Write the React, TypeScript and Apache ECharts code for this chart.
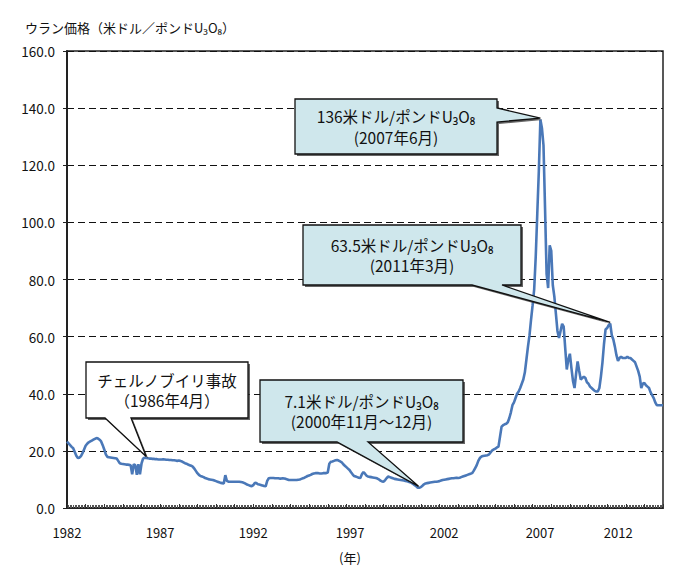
import React, { useEffect, useRef } from 'react';
import * as echarts from 'echarts';

const START_YEAR = 1982;

// Monthly uranium spot price (US$/lb U3O8), Jan 1982 onwards
const prices1980s = [
  23.2, 22.6, 22.0, 21.4, 20.9, 19.6, 18.3, 17.5, 17.6, 18.2, 19.2, 20.5,
  21.8, 22.5, 23.0, 23.3, 23.6, 23.9, 24.2, 24.5, 24.3, 23.9, 23.3, 22.0,
  20.5, 18.8, 17.9, 17.8, 17.7, 17.6, 17.5, 17.4, 17.3, 16.5, 15.7, 15.5,
  15.4, 15.3, 15.2, 15.2, 15.1, 15.0, 11.8, 15.3, 15.0, 11.6, 15.3, 11.8,
  15.5, 17.3, 17.6, 17.5, 17.4, 17.3, 17.3, 17.2, 17.2, 17.1, 17.1, 17.0,
  17.0, 17.0, 17.1, 17.0, 16.9, 16.9, 16.8, 16.8, 16.7, 16.7, 16.6, 16.5,
  16.6, 16.5, 16.3, 16.0, 15.7, 15.5, 15.2, 15.0, 14.8, 14.5, 13.8, 13.0,
  12.2, 11.6, 11.2, 11.0, 10.8, 10.5, 10.3, 10.1, 10.0, 9.9, 9.8, 9.6,
];
const prices1990s = [
  9.4, 9.2, 9.0, 8.8, 8.7, 8.6, 11.5, 9.5, 9.2, 9.2, 9.2, 9.2,
  9.2, 9.2, 9.2, 9.2, 9.1, 9.0, 8.8, 8.5, 8.2, 8.0, 7.8, 7.6,
  8.0, 8.8, 8.7, 8.3, 8.2, 8.0, 7.9, 7.7, 7.6, 9.5, 10.4, 10.5,
  10.5, 10.5, 10.4, 10.4, 10.4, 10.3, 10.3, 10.4, 10.3, 10.2, 10.0, 9.8,
  9.8, 9.8, 9.8, 9.8, 9.8, 9.9, 10.0, 10.2, 10.4, 10.6, 10.9, 11.2,
  11.4, 11.6, 11.9, 12.1, 12.2, 12.2, 12.2, 12.1, 12.1, 12.2, 12.2, 12.2,
  12.4, 15.5, 16.2, 16.3, 16.5, 16.7, 16.8, 16.6, 16.3, 16.0, 15.3, 14.8,
  14.3, 13.8, 13.3, 12.5, 11.8, 11.2, 11.0, 10.8, 10.6, 10.5, 11.8, 12.6,
  12.0, 11.3, 11.0, 10.9, 10.8, 10.7, 10.6, 10.5, 10.3, 10.0, 9.6, 9.3,
  9.2, 9.8, 10.5, 11.0, 10.8, 10.6, 10.4, 10.2, 10.1, 10.0, 9.9, 9.8,
];
const prices2000s = [
  9.7, 9.6, 9.5, 9.4, 9.2, 9.0, 8.8, 8.4, 8.0, 7.6, 7.1, 7.1,
  7.3, 7.8, 8.3, 8.6, 8.7, 8.8, 8.9, 9.0, 9.1, 9.2, 9.2, 9.3,
  9.4, 9.6, 9.8, 9.9, 10.0, 10.1, 10.2, 10.3, 10.4, 10.4, 10.5, 10.6,
  10.5, 10.6, 10.8, 11.0, 11.2, 11.4, 11.6, 11.8, 12.0, 12.2, 13.0, 14.0,
  15.0, 16.5, 17.5, 18.0, 18.2, 18.3, 18.4, 18.5, 18.8, 19.5, 20.2, 20.5,
  20.8, 21.2, 21.5, 25.0, 28.5, 29.0, 29.3, 29.5, 30.0, 31.5, 33.5, 36.0,
  37.0, 38.5, 40.0, 40.8, 42.0, 43.5, 45.0, 47.5, 52.0, 56.5, 60.5, 66.0,
  71.0, 76.5, 88.0, 103.0, 118.0, 136.0, 133.0, 127.0, 105.0, 82.0, 77.0, 92.0,
  90.0, 78.0, 74.0, 68.0, 62.0, 59.5, 62.0, 64.5, 63.5, 56.0, 48.5, 52.0,
  54.0, 49.0, 44.5, 42.0, 47.0, 51.3, 48.0, 45.0, 45.5, 46.0, 45.5, 44.0,
];
const prices2010s = [
  43.5, 42.5, 42.0, 41.5, 41.0, 40.8, 40.8, 42.0, 46.0, 51.0, 57.5, 62.5,
  63.0, 64.0, 64.5, 60.5, 59.0, 56.5, 53.5, 51.5, 52.5, 53.0, 52.5, 52.5,
  52.5, 53.0, 52.5, 52.5, 52.0, 51.5, 51.0, 49.5, 48.0, 46.0, 42.0, 43.5,
  43.8, 43.0, 42.5, 42.0, 40.5, 39.5, 38.5, 37.0, 36.0, 36.0, 36.0, 36.0,
  36.0,
];

const xTickLabels = ['1982', '1987', '1992', '1997', '2002', '2007', '2012'];
const xTickPositions = [1982, 1987, 1992, 1997.2, 2002.25, 2007.4, 2011.6];

const yMin = 0;
const yMax = 160;
const yStep = 20;

const titleText = 'ウラン価格（米ドル／ポンドU₃O₈）';
const xUnitText = '(年)';

const annotationTexts = [
  ['チェルノブイリ事故', '（1986年4月）'],
  ['7.1米ドル/ポンドU₃O₈', '(2000年11月〜12月)'],
  ['136米ドル/ポンドU₃O₈', '(2007年6月)'],
  ['63.5米ドル/ポンドU₃O₈', '(2011年3月)'],
];
// month index (from Jan 1982) each callout points at
const annotationMonths = [51, 226.5, 305, 350];

const FONT = '"Noto Sans CJK JP", "Noto Sans", sans-serif';

export default function App() {
  const ref = useRef<HTMLDivElement>(null);

  useEffect(() => {
    if (!ref.current) return;
    const chart = echarts.init(ref.current, null, { renderer: 'svg' });

    const all = [...prices1980s, ...prices1990s, ...prices2000s, ...prices2010s];
    const data = all.map((v, i) => [START_YEAR + i / 12, v]);
    const xMax = START_YEAR + (all.length - 1) / 12;

    const option: any = {
      animation: false,
      textStyle: { fontFamily: FONT },
      title: {
        text: titleText,
        left: 20,
        top: 16,
        textStyle: { fontSize: 13, fontWeight: 'normal', color: '#111', fontFamily: FONT },
      },
      grid: {
        left: 67,
        right: 26,
        top: 51,
        bottom: 76,
        show: true,
        borderColor: '#222',
        borderWidth: 1.5,
        backgroundColor: 'transparent',
      },
      xAxis: {
        type: 'value',
        min: START_YEAR,
        max: xMax,
        interval: 1,
        axisLine: { show: true, onZero: false, lineStyle: { color: '#222', width: 2 } },
        axisTick: { show: true, inside: true, length: 4, lineStyle: { color: '#333', width: 1 } },
        minorTick: { show: true, splitNumber: 12, length: 3, lineStyle: { color: '#555', width: 1 } },
        axisLabel: {
          customValues: xTickPositions,
          formatter: (v: number) => {
            const k = xTickPositions.findIndex((p) => Math.abs(p - v) < 1e-6);
            return k >= 0 ? xTickLabels[k] : '';
          },
          margin: 18,
          fontSize: 13,
          color: '#111',
          fontFamily: FONT,
        },
        splitLine: { show: false },
        minorSplitLine: { show: false },
      },
      yAxis: {
        type: 'value',
        min: yMin,
        max: yMax,
        interval: yStep,
        axisLine: { show: true, lineStyle: { color: '#222', width: 2 } },
        axisTick: { show: true, inside: false, length: 4, lineStyle: { color: '#222', width: 1 } },
        axisLabel: {
          formatter: (v: number) => v.toFixed(1),
          margin: 12,
          fontSize: 13.5,
          color: '#111',
          fontFamily: FONT,
        },
        splitLine: { show: true, lineStyle: { color: '#111', type: [7, 4], width: 1 } },
      },
      series: [
        {
          type: 'line',
          data,
          showSymbol: false,
          symbol: 'none',
          lineStyle: { color: '#4a78b8', width: 2.6 },
          itemStyle: { color: '#4a78b8' },
          z: 3,
        },
      ],
    };
    chart.setOption(option);

    // callout layout (pixels): box, tail edge and base, text line spacing
    const layouts = [
      { box: [86, 362, 248, 418], edge: 'bottom', a: 105, b: 131, fill: '#ffffff', lh: 20 },
      { box: [260, 380, 463, 442], edge: 'bottom', a: 337, b: 368, fill: '#cfe7ec', lh: 20.5 },
      { box: [295, 99, 497, 154], edge: 'right', a: 108, b: 122, fill: '#cfe7ec', lh: 20.5 },
      { box: [303, 225, 521, 285], edge: 'bottom', a: 472, b: 502, fill: '#cfe7ec', lh: 20.5 },
    ];

    const valueAt = (m: number) => {
      const lo = Math.floor(m);
      const hi = Math.ceil(m);
      return all[lo] + (all[hi] - all[lo]) * (m - lo);
    };

    const graphics: any[] = [];
    layouts.forEach((L, k) => {
      const m = annotationMonths[k];
      const tip = chart.convertToPixel({ gridIndex: 0 }, [START_YEAR + m / 12, valueAt(m)]) as number[];
      const tx = tip[0];
      const ty = tip[1] - 1.5;
      const [x0, y0, x1, y1] = L.box;
      let pts: number[][];
      if (L.edge === 'bottom') {
        pts = [[x0, y0], [x1, y0], [x1, y1], [L.b, y1], [tx, ty], [L.a, y1], [x0, y1]];
      } else {
        pts = [[x0, y0], [x1, y0], [x1, L.a], [tx, ty], [x1, L.b], [x1, y1], [x0, y1]];
      }
      graphics.push({
        type: 'polygon',
        z: 10,
        shape: { points: pts.map(([x, y]) => [x + 2, y + 2]) },
        style: { fill: 'rgba(50,50,50,0.75)', stroke: 'none' },
        silent: true,
      });
      graphics.push({
        type: 'polygon',
        z: 11,
        shape: { points: pts },
        style: { fill: L.fill, stroke: '#111', lineWidth: 1.3 },
        silent: true,
      });
      const cx = (x0 + x1) / 2;
      const cy = (y0 + y1) / 2;
      annotationTexts[k].forEach((line, j) => {
        graphics.push({
          type: 'text',
          z: 12,
          x: cx,
          y: cy + (j - 0.5) * L.lh,
          style: {
            text: line,
            fontSize: 15.5,
            fontFamily: FONT,
            fill: '#111',
            textAlign: 'center',
            textVerticalAlign: 'middle',
          },
          silent: true,
        });
      });
    });
    graphics.push({
      type: 'text',
      z: 12,
      x: 350,
      y: 557,
      style: {
        text: xUnitText,
        fontSize: 13,
        fontFamily: FONT,
        fill: '#111',
        textAlign: 'center',
        textVerticalAlign: 'middle',
      },
      silent: true,
    });
    chart.setOption({ graphic: graphics });

    return () => chart.dispose();
  }, []);

  return (
    <div
      ref={ref}
      style={{ position: 'fixed', left: 0, top: 0, width: 689, height: 584, background: '#fff' }}
    />
  );
}
